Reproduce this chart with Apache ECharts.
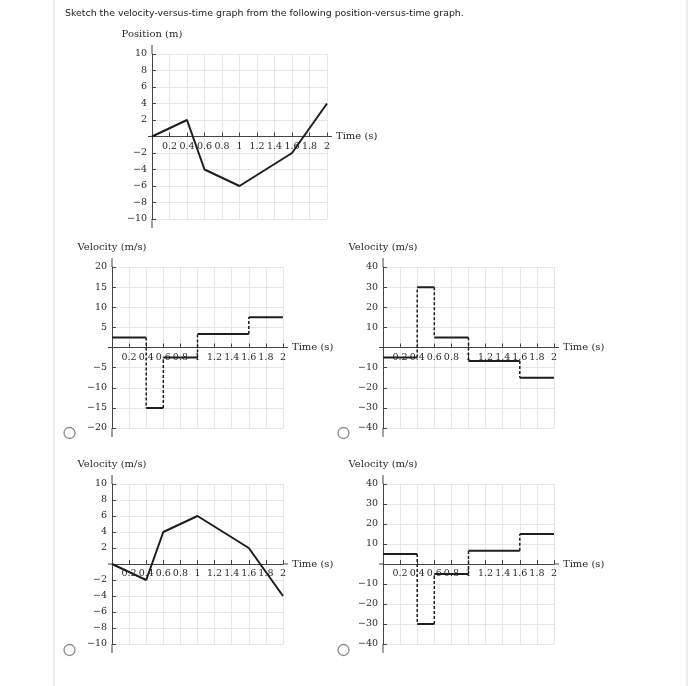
<!DOCTYPE html>
<html>
<head>
<meta charset="utf-8">
<script src="https://cdn.jsdelivr.net/npm/echarts@6/dist/echarts.min.js"></script>
<style>
html,body{margin:0;padding:0;background:#fff;}
#c{width:700px;height:686px;}
</style>
</head>
<body>
<div id="c"></div>
<script>
// ---- data ----
const titleText = 'Sketch the velocity-versus-time graph from the following position-versus-time graph.';
const posTimes = [0, 0.4, 0.6, 1, 1.6, 2];
const posValues = [0, 2, -4, -6, -2, 4];
const stepTimes = [0, 0.4, 0.6, 1, 1.6, 2];
const velA = [2.5, -15, -2.5, 3.33, 7.5];
const velB = [-5, 30, 5, -6.67, -15];
const velD = [5, -30, -5, 6.67, 15];
const lineTimesC = [0, 0.4, 0.6, 1, 1.6, 2];
const velC = [0, -2, 4, 6, 2, -4];
const yRanges = [[-10, 10, 2], [-20, 20, 5], [-40, 40, 10], [-10, 10, 2], [-40, 40, 10]];
const yNames = ['Position (m)', 'Velocity (m/s)', 'Velocity (m/s)', 'Velocity (m/s)', 'Velocity (m/s)'];
const xName = 'Time (s)';
const xRange = [0, 2, 0.2];

// ---- layout ----
const grids = [
  {left: 152, top: 54, width: 175, height: 165},
  {left: 112, top: 267, width: 171, height: 161},
  {left: 383, top: 267, width: 171, height: 161},
  {left: 112, top: 484, width: 171, height: 160},
  {left: 383, top: 484, width: 171, height: 160}
];
const radios = [[69.5, 433], [343.5, 433], [69.5, 650], [343.5, 650]];
const SERIF = 'DejaVu Serif';
const AXIS_COLOR = '#444';
const TEXT_COLOR = '#2a2a2a';
const GRID_COLOR = '#e6e6e6';
const LINE_COLOR = '#1e1e1e';

function fmt(v) {
  if (Math.abs(v) < 1e-9) return '';
  const s = String(+Math.abs(v).toFixed(2));
  return v < 0 ? '\u2212' + s : s;
}

function polyline(ts, vs) { return ts.map((t, i) => [t, vs[i]]); }
function stepH(ts, vs) {
  const out = [];
  vs.forEach((v, i) => { out.push([ts[i], v], [ts[i + 1], v]); if (i < vs.length - 1) out.push(null); });
  return out;
}
function stepV(ts, vs) {
  const out = [];
  for (let i = 1; i < vs.length; i++) {
    out.push([ts[i], vs[i - 1]], [ts[i], vs[i]]);
    if (i < vs.length - 1) out.push(null);
  }
  return out;
}

// x axis sits on the zero line: offset it up from the grid bottom by zero's fraction of the y range
const xAxes = grids.map((g, i) => ({
  type: 'value', gridIndex: i, min: xRange[0], max: xRange[1], interval: xRange[2],
  position: 'bottom',
  offset: -g.height * (0 - yRanges[i][0]) / (yRanges[i][1] - yRanges[i][0]),
  name: xName, nameLocation: 'end', nameGap: 9,
  nameTextStyle: {fontFamily: SERIF, fontSize: 10, color: TEXT_COLOR, verticalAlign: 'middle', align: 'left'},
  axisLine: {onZero: false, lineStyle: {color: AXIS_COLOR, width: 1}},
  axisTick: {show: true, inside: true, length: 4, lineStyle: {color: AXIS_COLOR}},
  axisLabel: {formatter: fmt, fontFamily: SERIF, fontSize: 9.5, color: TEXT_COLOR, margin: 5},
  splitLine: {show: true, lineStyle: {color: GRID_COLOR, width: 1}}
}));
const yAxes = grids.map((g, i) => ({
  type: 'value', gridIndex: i, min: yRanges[i][0], max: yRanges[i][1], interval: yRanges[i][2],
  name: yNames[i], nameLocation: 'end', nameGap: 15,
  nameTextStyle: {fontFamily: SERIF, fontSize: 10, color: TEXT_COLOR},
  axisLine: {show: true, onZero: false, lineStyle: {color: AXIS_COLOR, width: 1}},
  axisTick: {show: true, inside: true, length: 4, lineStyle: {color: AXIS_COLOR}},
  axisLabel: {formatter: fmt, fontFamily: SERIF, fontSize: 9.5, color: TEXT_COLOR, margin: 5},
  splitLine: {show: true, lineStyle: {color: GRID_COLOR, width: 1}}
}));

const solid = {color: LINE_COLOR, width: 2};
const dashed = {color: LINE_COLOR, width: 1.5, type: [3, 2]};
function lineSeries(idx, data, style) {
  return {type: 'line', xAxisIndex: idx, yAxisIndex: idx, data: data, showSymbol: false,
    symbol: 'none', connectNulls: false, lineStyle: style, silent: true, z: 5};
}

const series = [
  lineSeries(0, polyline(posTimes, posValues), solid),
  lineSeries(1, stepV(stepTimes, velA), dashed),
  lineSeries(1, stepH(stepTimes, velA), solid),
  lineSeries(2, stepV(stepTimes, velB), dashed),
  lineSeries(2, stepH(stepTimes, velB), solid),
  lineSeries(3, polyline(lineTimesC, velC), solid),
  lineSeries(4, stepV(stepTimes, velD), dashed),
  lineSeries(4, stepH(stepTimes, velD), solid)
];

const chart = echarts.init(document.getElementById('c'), null, {renderer: 'canvas'});
chart.setOption({
  animation: false,
  backgroundColor: '#fff',
  title: {text: titleText, left: 60, top: 4,
    textStyle: {fontFamily: 'DejaVu Sans', fontSize: 9.4, fontWeight: 'normal', color: '#222'}},
  grid: grids.map(g => Object.assign({containLabel: false}, g)),
  xAxis: xAxes,
  yAxis: yAxes,
  series: series
});

// axis-line extensions and page decorations, positioned from the chart's own scales
const graphic = [];
graphic.push({type: 'line', shape: {x1: 54, y1: 0, x2: 54, y2: 686}, style: {stroke: '#e8e8e8', lineWidth: 1.5}, silent: true});
graphic.push({type: 'line', shape: {x1: 687, y1: 0, x2: 687, y2: 686}, style: {stroke: '#e8e8e8', lineWidth: 1.5}, silent: true});
grids.forEach((g, i) => {
  const p0 = chart.convertToPixel({gridIndex: i}, [xRange[0], 0]);
  const p1 = chart.convertToPixel({gridIndex: i}, [xRange[1], 0]);
  const pt = chart.convertToPixel({gridIndex: i}, [0, yRanges[i][1]]);
  const pb = chart.convertToPixel({gridIndex: i}, [0, yRanges[i][0]]);
  const st = {stroke: AXIS_COLOR, lineWidth: 1};
  graphic.push({type: 'line', shape: {x1: pt[0], y1: pt[1] - 9, x2: pt[0], y2: pt[1]}, style: st, silent: true, z: 3});
  graphic.push({type: 'line', shape: {x1: pb[0], y1: pb[1], x2: pb[0], y2: pb[1] + 9}, style: st, silent: true, z: 3});
  graphic.push({type: 'line', shape: {x1: p0[0] - 4, y1: p0[1], x2: p0[0], y2: p0[1]}, style: st, silent: true, z: 3});
  graphic.push({type: 'line', shape: {x1: p1[0], y1: p1[1], x2: p1[0] + 5, y2: p1[1]}, style: st, silent: true, z: 3});
});
radios.forEach(r => {
  graphic.push({type: 'circle', shape: {cx: r[0], cy: r[1], r: 5.5}, style: {fill: '#fff', stroke: '#8a8a8a', lineWidth: 1.3}, silent: true});
});
chart.setOption({graphic: graphic});
</script>
</body>
</html>
